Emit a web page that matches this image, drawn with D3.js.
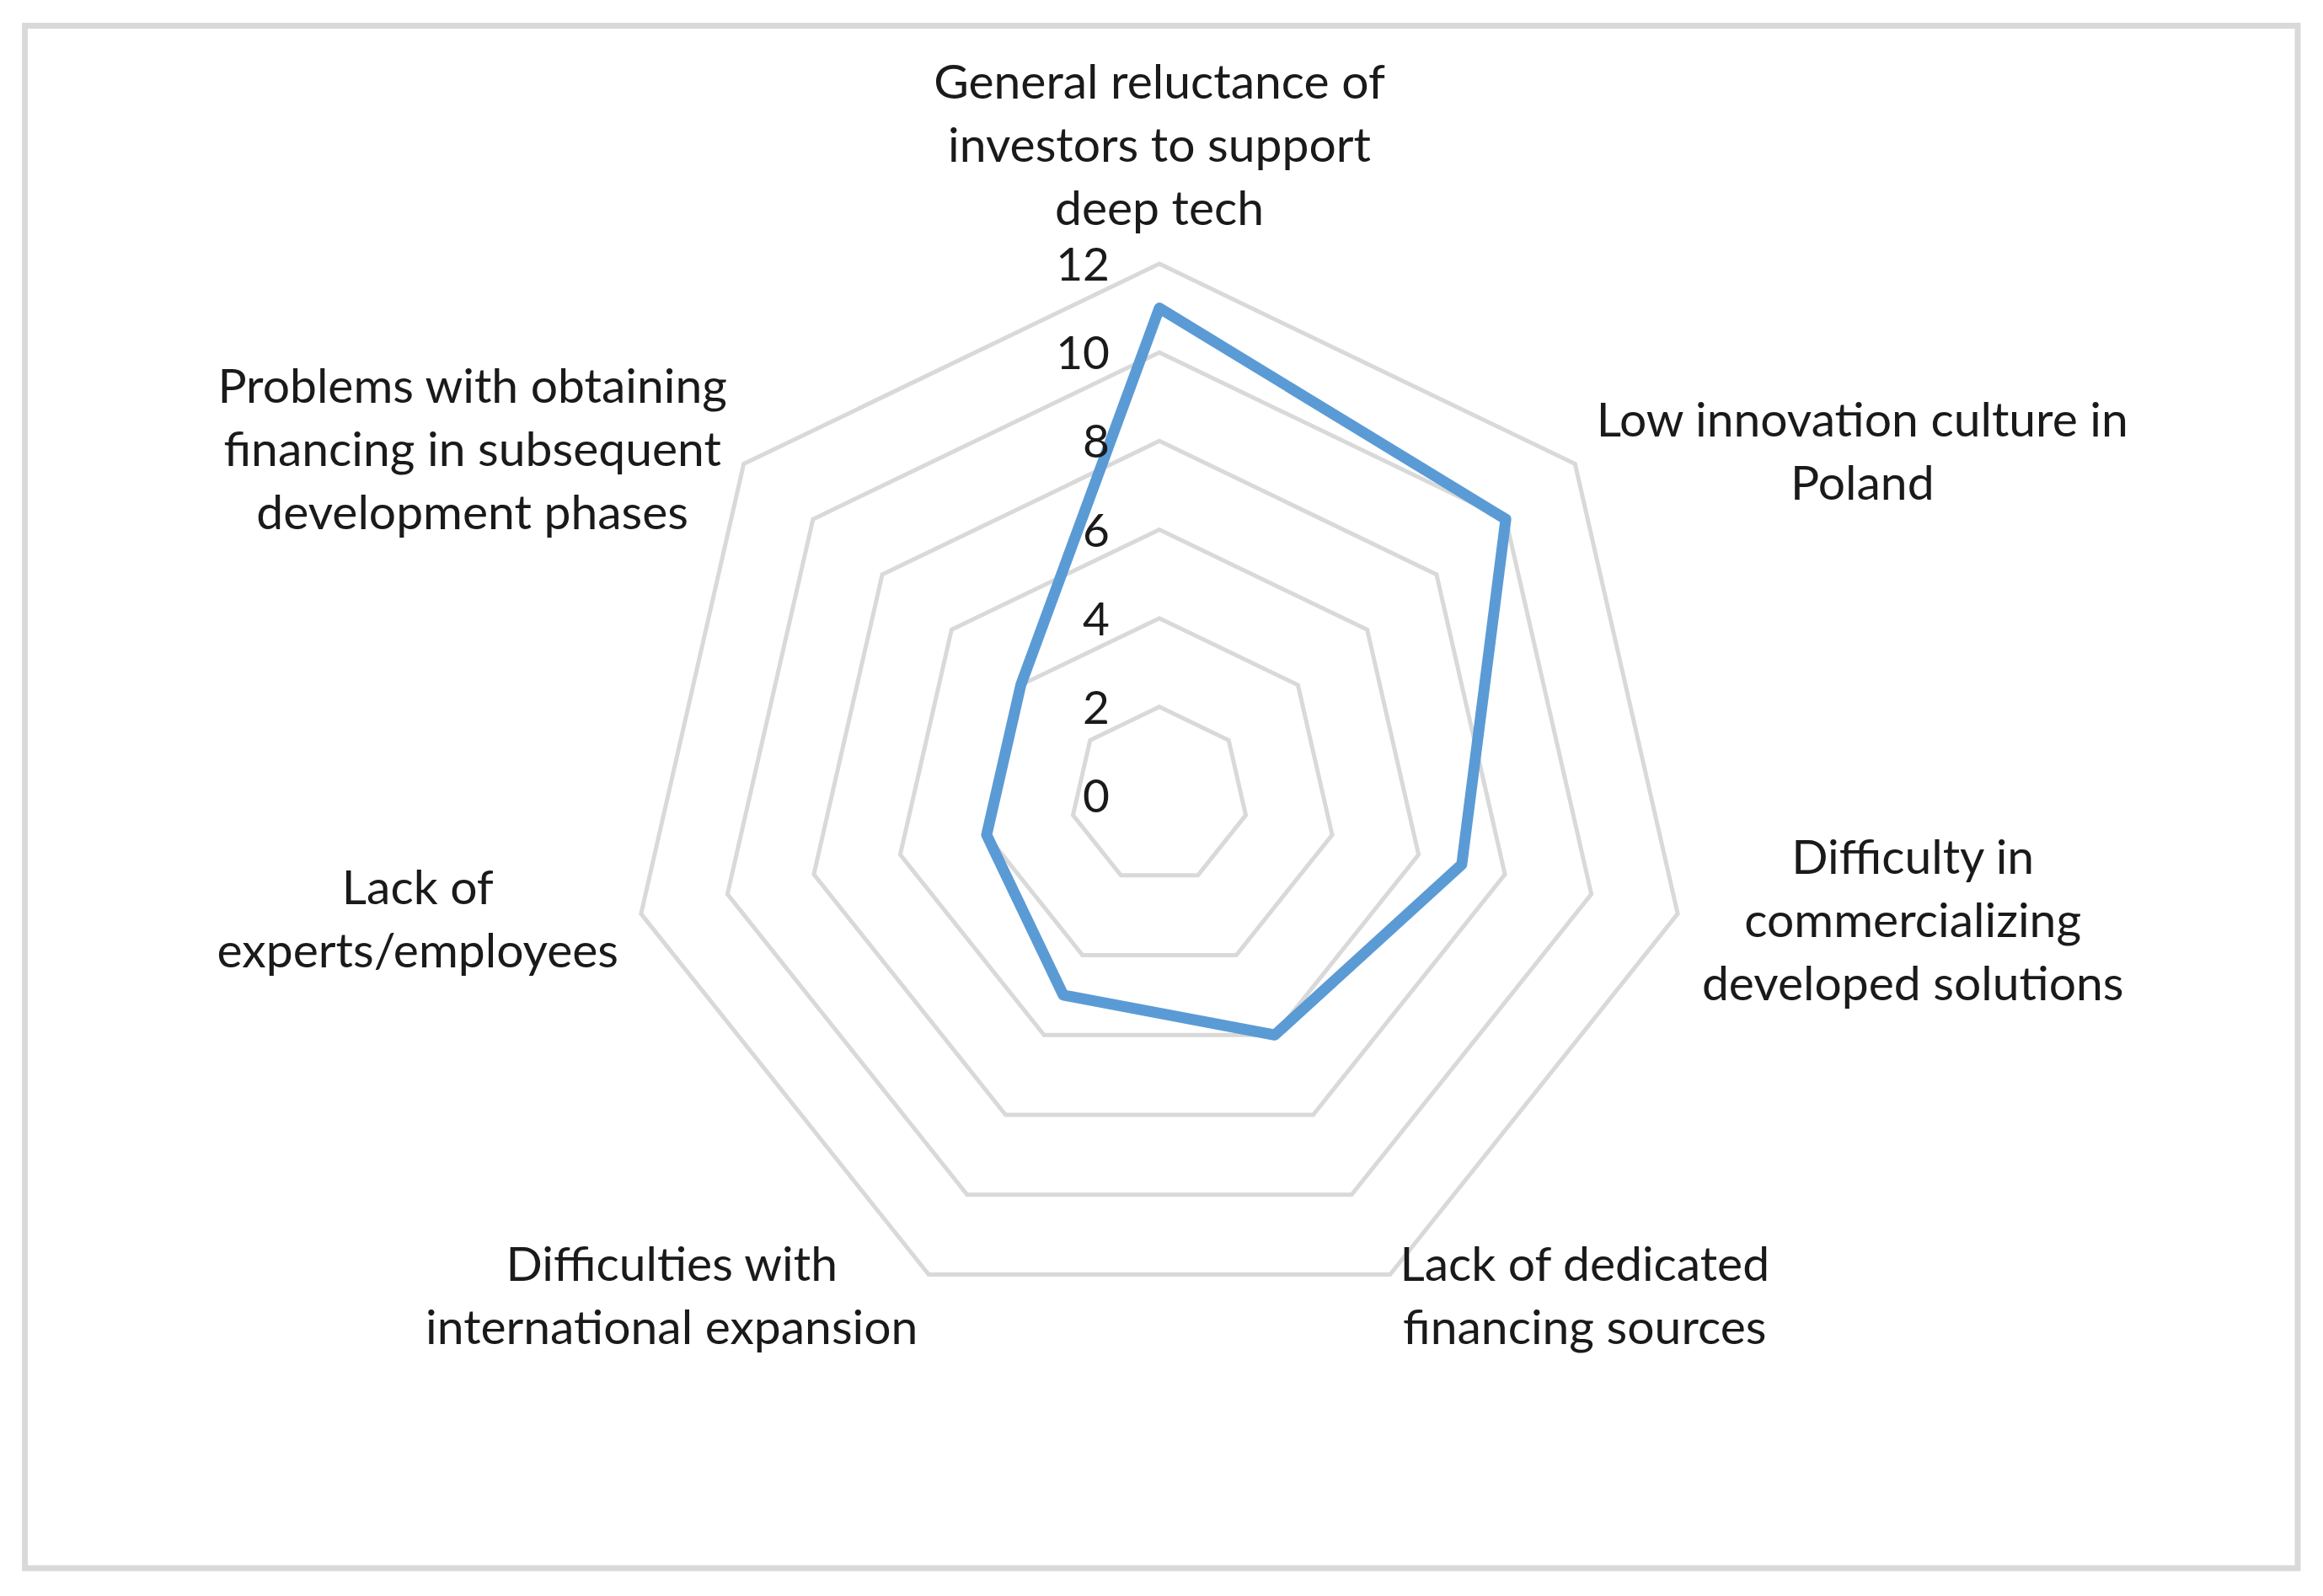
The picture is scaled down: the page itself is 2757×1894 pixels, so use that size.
<!DOCTYPE html>
<html>
<head>
<meta charset="utf-8">
<script src="https://cdn.jsdelivr.net/npm/d3@7"></script>
<style>
  html, body { margin: 0; padding: 0; background: #ffffff; }
  svg { display: block; }
  text { font-family: Lato, "Open Sans", sans-serif; fill: #1a1a1a; }
</style>
</head>
<body>
<svg id="chart" width="2757" height="1894"></svg>
<script>
// ---- data ----
const categories = [
  "General reluctance of investors to support deep tech",
  "Low innovation culture in Poland",
  "Difficulty in commercializing developed solutions",
  "Lack of dedicated financing sources",
  "Difficulties with international expansion",
  "Lack of experts/employees",
  "Problems with obtaining financing in subsequent development phases"
];
const categoryLines = [
  ["General reluctance of", "investors to support", "deep tech"],
  ["Low innovation culture in", "Poland"],
  ["Difficulty in", "commercializing", "developed solutions"],
  ["Lack of dedicated", "financing sources"],
  ["Difficulties with", "international expansion"],
  ["Lack of", "experts/employees"],
  ["Problems with obtaining", "financing in subsequent", "development phases"]
];
const values = [11, 10, 7, 6, 5, 4, 4];
const tickValues = [0, 2, 4, 6, 8, 10, 12];
const tickLabels = ["0", "2", "4", "6", "8", "10", "12"];

// ---- layout ----
const W = 2757, H = 1894;
const cx = 1376, cy = 944, R = 631;
const fontSize = 57, tickFontSize = 55, lineH = 75;
// label block centre offsets from the outer vertex of each axis
const labelOffsets = [[0, -142], [341, -16], [279, 7], [231, 24], [-305, 24], [-265, 6], [-322, -18]];

const svg = d3.select("#chart");

// frame
svg.append("rect")
  .attr("x", 29.5).attr("y", 30.5)
  .attr("width", 2727 - 29.5).attr("height", 1861 - 30.5)
  .attr("fill", "#ffffff")
  .attr("stroke", "#d9d9d9").attr("stroke-width", 7);

const n = categories.length;
const angle = d3.scaleLinear().domain([0, n]).range([0, 2 * Math.PI]);
const r = d3.scaleLinear().domain([0, 12]).range([0, R]);

const g = svg.append("g").attr("transform", `translate(${cx},${cy})`);

const radial = d3.lineRadial()
  .angle((d, i) => angle(i))
  .radius(d => r(d))
  .curve(d3.curveLinearClosed);

// grid rings
g.append("g").selectAll("path")
  .data(tickValues.filter(v => v > 0))
  .join("path")
  .attr("d", v => radial(d3.range(n).map(() => v)))
  .attr("fill", "none")
  .attr("stroke", "#d9d9d9")
  .attr("stroke-width", 5)
  .attr("stroke-linejoin", "miter");

// data polygon
g.append("path")
  .datum(values)
  .attr("d", radial)
  .attr("fill", "none")
  .attr("stroke", "#5b9bd5")
  .attr("stroke-width", 13)
  .attr("stroke-linejoin", "round");

// tick labels
g.append("g").selectAll("text")
  .data(tickValues)
  .join("text")
  .attr("x", -59)
  .attr("y", v => -r(v) + 20)
  .attr("text-anchor", "end")
  .attr("font-size", tickFontSize)
  .text((v, i) => tickLabels[i]);

// category labels
g.append("g").selectAll("text")
  .data(categoryLines)
  .join("text")
  .attr("text-anchor", "middle")
  .attr("font-size", fontSize)
  .each(function(lines, i) {
    const a = angle(i) - Math.PI / 2;
    const vx = Math.cos(a) * R, vy = Math.sin(a) * R;
    const bx = vx + labelOffsets[i][0];
    const by = vy + labelOffsets[i][1];
    const top = by - (lines.length - 1) * lineH / 2 + fontSize * 0.36;
    d3.select(this).selectAll("tspan")
      .data(lines)
      .join("tspan")
      .attr("x", bx)
      .attr("y", (d, k) => top + k * lineH)
      .text(d => d);
  });
</script>
</body>
</html>
